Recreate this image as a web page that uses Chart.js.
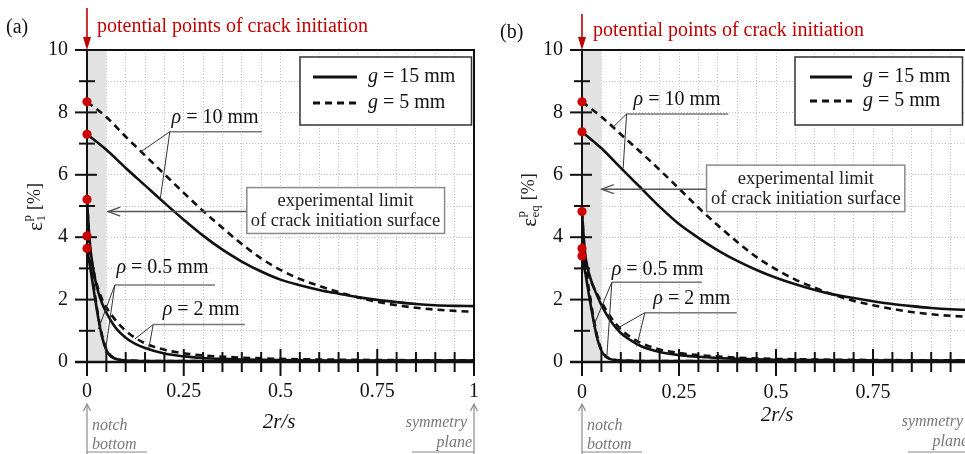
<!DOCTYPE html>
<html><head><meta charset="utf-8">
<script src="https://cdn.jsdelivr.net/npm/chart.js@4.4.1/dist/chart.umd.min.js"></script>
<style>
html,body{margin:0;padding:0;background:#fff;overflow:hidden;width:965px;height:454px;}
canvas{position:absolute;top:0;}
#ca{left:0;} #cb{left:485px;}
</style></head><body>
<canvas id="ca" width="482" height="454"></canvas>
<canvas id="cb" width="492" height="454"></canvas>
<script>
// ---------- data ----------
const xRho10 = [0,0.05,0.1,0.15,0.2,0.25,0.3,0.35,0.4,0.45,0.5,0.55,0.6,0.65,0.7,0.75,0.8,0.85,0.9,0.95,1];
const xRho2  = [0,0.005,0.01,0.02,0.03,0.04,0.05,0.075,0.1,0.125,0.15,0.2,0.25,0.3,0.35,0.4,0.5,0.6,0.8,1];
const xRho05 = [0,0.01,0.02,0.03,0.04,0.05,0.06,0.07,0.08,0.1,0.2,0.4,0.6,0.8,1];

// panel (a): eps_1^p [%]
const a_rho10_g15 = [7.30,6.80,6.22,5.66,5.10,4.56,4.05,3.60,3.22,2.90,2.64,2.46,2.31,2.19,2.08,1.99,1.92,1.86,1.82,1.80,1.79];
const a_rho10_g5  = [8.34,7.85,7.22,6.62,6.02,5.42,4.84,4.30,3.78,3.32,2.95,2.66,2.44,2.24,2.07,1.93,1.82,1.74,1.68,1.64,1.61];
const a_rho2_g15  = [5.21,4.2,3.5,2.7,2.2,1.85,1.58,1.08,0.78,0.58,0.45,0.27,0.18,0.13,0.1,0.08,0.06,0.05,0.05,0.05];
const a_rho2_g5   = [5.21,4.1,3.45,2.75,2.3,1.98,1.75,1.32,1.0,0.77,0.6,0.39,0.28,0.21,0.17,0.14,0.1,0.08,0.06,0.05];
const a_rho05_g15 = [3.64,2.9,2.1,1.35,0.75,0.38,0.2,0.12,0.08,0.05,0.03,0.03,0.03,0.03,0.03];
const a_rho05_g5  = [4.04,3.1,2.2,1.4,0.8,0.42,0.22,0.13,0.08,0.05,0.03,0.03,0.03,0.03,0.03];
const a_dots      = [8.34,7.30,5.21,4.04,3.64];

// panel (b): eps_eq^p [%]
const b_rho10_g15 = [7.38,6.85,6.22,5.60,4.98,4.42,3.98,3.58,3.24,2.95,2.70,2.49,2.31,2.16,2.05,1.95,1.86,1.79,1.73,1.69,1.67];
const b_rho10_g5  = [8.34,7.86,7.30,6.74,6.16,5.56,4.95,4.38,3.85,3.36,2.97,2.64,2.38,2.15,1.96,1.82,1.70,1.60,1.53,1.48,1.45];
const b_rho2_g15  = [4.82,3.9,3.3,2.75,2.4,2.1,1.82,1.3,0.93,0.7,0.52,0.32,0.22,0.17,0.13,0.1,0.07,0.06,0.05,0.05];
const b_rho2_g5   = [4.82,3.8,3.2,2.7,2.4,2.15,1.92,1.42,1.05,0.8,0.62,0.4,0.29,0.22,0.18,0.14,0.1,0.08,0.06,0.05];
const b_rho05_g15 = [3.40,2.75,2.0,1.3,0.72,0.36,0.18,0.11,0.07,0.05,0.03,0.03,0.03,0.03,0.03];
const b_rho05_g5  = [3.64,2.95,2.15,1.4,0.78,0.4,0.2,0.12,0.08,0.05,0.03,0.03,0.03,0.03,0.03];
const b_dots      = [8.34,7.38,4.82,3.64,3.40];

const xTickValues = [0,0.25,0.5,0.75,1];
const xTickLabels = ['0','0.25','0.5','0.75','1'];
const yTickValues = [0,2,4,6,8,10];
const yTickLabels = ['0','2','4','6','8','10'];
const legendLabels = ['15 mm','5 mm'];
const rhoLabels = ['10 mm','0.5 mm','2 mm'];

// ---------- helpers ----------
const SERIF = '"Liberation Serif","Times New Roman",serif';
const RED = '#c00000';
function line(ctx,x1,y1,x2,y2){ctx.beginPath();ctx.moveTo(x1,y1);ctx.lineTo(x2,y2);ctx.stroke();}
function rich(ctx, parts, x, y, align){
  let w=0; parts.forEach(p=>{ctx.font=p.f; p.w=ctx.measureText(p.t).width; w+=p.w;});
  let sx = align==='center'? x-w/2 : align==='right'? x-w : x;
  ctx.textAlign='left'; ctx.textBaseline='middle';
  parts.forEach(p=>{ctx.font=p.f; ctx.fillText(p.t, sx, y+(p.dy||0)); sx+=p.w;});
}
function openHead(ctx,x,y,ang,len,hw){
  const c=Math.cos(ang), s=Math.sin(ang);
  ctx.beginPath();
  ctx.moveTo(x - len*c + hw*s, y - len*s - hw*c);
  ctx.lineTo(x,y);
  ctx.lineTo(x - len*c - hw*s, y - len*s + hw*c);
  ctx.stroke();
}

function makeDeco(cfg){
  const ox = cfg.ox;
  return {
    id:'deco',
    beforeDatasetsDraw(chart){
      const {ctx, chartArea:a} = chart; const x=chart.scales.x, y=chart.scales.y;
      ctx.save();
      ctx.fillStyle='#e2e2e2';
      const bx0=x.getPixelForValue(0), bx1=x.getPixelForValue(0.05);
      ctx.fillRect(bx0, a.top, bx1-bx0, a.bottom-a.top);
      ctx.strokeStyle='#111'; ctx.lineWidth=2;
      line(ctx,a.left-12,a.top,a.right+1,a.top);
      line(ctx,a.right,a.top,a.right,a.bottom);
      line(ctx,a.left,a.top,a.left,a.bottom);
      ctx.lineWidth=2.5;
      line(ctx,a.left-12,a.bottom,a.right+1,a.bottom);
      ctx.lineWidth=2;
      y.ticks.forEach(t=>{
        const py=y.getPixelForValue(t.value);
        const major = Math.abs(t.value%2)<1e-6;
        if(major) line(ctx,a.left-12,py,a.left+10,py); else line(ctx,a.left-8,py,a.left+8,py);
      });
      x.ticks.forEach(t=>{
        const px=x.getPixelForValue(t.value);
        const major = Math.abs(t.value*4-Math.round(t.value*4))<1e-6;
        if(major) line(ctx,px,a.bottom-13,px,a.bottom+14); else line(ctx,px,a.bottom-10,px,a.bottom+10);
      });
      ctx.restore();
    },
    afterDatasetsDraw(chart){
      const {ctx, chartArea:a} = chart; const X=chart.scales.x, Y=chart.scales.y;
      const px=v=>X.getPixelForValue(v), py=v=>Y.getPixelForValue(v);
      ctx.save();
      ctx.fillStyle='#111';
      rich(ctx,[{t:cfg.tag.t,f:'20px '+SERIF}],cfg.tag.x-ox,cfg.tag.y,'left');
      ctx.strokeStyle=RED; ctx.fillStyle=RED; ctx.lineWidth=1.6;
      const ax=px(0);
      line(ctx,ax,cfg.red.top,ax,a.top-10);
      ctx.beginPath(); ctx.moveTo(ax-4,a.top-13); ctx.lineTo(ax+4,a.top-13); ctx.lineTo(ax,a.top); ctx.closePath(); ctx.fill();
      rich(ctx,[{t:'potential points of crack initiation',f:'20px '+SERIF}],cfg.red.x-ox,cfg.red.y,'left');
      const L=cfg.legend;
      ctx.fillStyle='#fff'; ctx.fillRect(L.x1-ox,L.y1,L.x2-L.x1,L.y2-L.y1);
      ctx.strokeStyle='#333'; ctx.lineWidth=1.5; ctx.strokeRect(L.x1-ox,L.y1,L.x2-L.x1,L.y2-L.y1);
      ctx.strokeStyle='#111'; ctx.lineWidth=3;
      line(ctx,L.lx1-ox,L.r1,L.lx2-ox,L.r1);
      ctx.setLineDash([7,5]); line(ctx,L.lx1-ox,L.r2,L.lx2-ox,L.r2); ctx.setLineDash([]);
      ctx.fillStyle='#111';
      rich(ctx,[{t:'g',f:'italic 20px '+SERIF},{t:' = '+legendLabels[0],f:'20px '+SERIF}],L.tx-ox,L.r1,'left');
      rich(ctx,[{t:'g',f:'italic 20px '+SERIF},{t:' = '+legendLabels[1],f:'20px '+SERIF}],L.tx-ox,L.r2,'left');
      cfg.rho.forEach((r,i)=>{
        ctx.fillStyle='#111';
        rich(ctx,[{t:'ρ',f:'italic 20px '+SERIF},{t:' = '+rhoLabels[i],f:'20px '+SERIF}],px(r.cx),py(r.cy),'center');
        ctx.strokeStyle='#777'; ctx.lineWidth=1.5;
        line(ctx,px(r.u[0]),py(r.u[2]),px(r.u[1]),py(r.u[2]));
        ctx.strokeStyle='#333'; ctx.lineWidth=1;
        r.L.forEach(p=>line(ctx,px(r.u[0]),py(r.u[2]),px(p[0]),py(p[1])));
      });
      const E=cfg.exp;
      ctx.strokeStyle='#555'; ctx.lineWidth=1.5;
      line(ctx,px(E.x1),py(E.ay),px(E.tip),py(E.ay));
      openHead(ctx,px(E.tip),py(E.ay),Math.PI,12,4.5);
      ctx.fillStyle='#fff';
      ctx.fillRect(px(E.x1),py(E.y1),px(E.x2)-px(E.x1),py(E.y2)-py(E.y1));
      ctx.strokeStyle='#8a8a8a'; ctx.lineWidth=1.5;
      ctx.strokeRect(px(E.x1),py(E.y1),px(E.x2)-px(E.x1),py(E.y2)-py(E.y1));
      ctx.fillStyle='#222';
      rich(ctx,[{t:'experimental limit',f:'18.5px '+SERIF}],px(E.cx),py(E.l1),'center');
      rich(ctx,[{t:'of crack initiation surface',f:'18.5px '+SERIF}],px(E.cx),py(E.l2),'center');
      ctx.save();
      ctx.translate(cfg.ylab.cx-ox,cfg.ylab.cy); ctx.rotate(-Math.PI/2);
      ctx.fillStyle='#222';
      ctx.font='21px '+SERIF; const we=ctx.measureText('ε').width;
      ctx.font='13px '+SERIF; const wsup=ctx.measureText('p').width, wsub=ctx.measureText(cfg.ylab.sub).width;
      const wst=Math.max(wsup,wsub)+1;
      ctx.font='18px '+SERIF; const wr=ctx.measureText(' [%]').width;
      let sx=-(we+wst+wr)/2;
      ctx.textBaseline='middle'; ctx.textAlign='left';
      ctx.font='21px '+SERIF; ctx.fillText('ε',sx,1); sx+=we;
      ctx.font='13px '+SERIF; ctx.fillText('p',sx+0.5,-7); ctx.fillText(cfg.ylab.sub,sx+0.5,7); sx+=wst;
      ctx.font='18px '+SERIF; ctx.fillText(' [%]',sx,0);
      ctx.restore();
      ctx.fillStyle='#111';
      rich(ctx,[{t:'2r/s',f:'italic 21px '+SERIF}],cfg.xt.x-ox,cfg.xt.y,'center');
      ctx.strokeStyle='#8a8a8a'; ctx.lineWidth=1.2; ctx.fillStyle='#777';
      const nx=px(0), sxp=px(1);
      line(ctx,nx,405,nx,454); openHead(ctx,nx,404,-Math.PI/2,7,3.5);
      line(ctx,nx,452,nx+60,452);
      line(ctx,sxp,405,sxp,454); openHead(ctx,sxp,404,-Math.PI/2,7,3.5);
      line(ctx,sxp-62,452,sxp,452);
      rich(ctx,[{t:'notch',f:'italic 16px '+SERIF}],cfg.notch.x-ox,cfg.notch.y1,'left');
      rich(ctx,[{t:'bottom',f:'italic 16px '+SERIF}],cfg.notch.x-ox,cfg.notch.y2,'left');
      rich(ctx,[{t:'symmetry',f:'italic 16px '+SERIF}],sxp-7,cfg.sym.y1,'right');
      rich(ctx,[{t:'plane',f:'italic 16px '+SERIF}],sxp-2,cfg.sym.y2,'right');
      ctx.restore();
    }
  };
}

function pts(xs,ys){return xs.map((x,i)=>({x:x,y:ys[i]}));}
function solid(xs,ys){return {data:pts(xs,ys),borderColor:'#111',borderWidth:2.6,pointRadius:0,cubicInterpolationMode:'monotone',fill:false};}
function dashed(xs,ys){return Object.assign(solid(xs,ys),{borderDash:[7,5]});}

function makeChart(id, series, dots, cfg){
  const datasets=[
    {data:dots.map(v=>({x:0,y:v})),showLine:false,pointRadius:4.6,pointHoverRadius:4.6,pointBackgroundColor:'#cc0000',pointBorderColor:'#cc0000',pointBorderWidth:0,clip:false,order:-1},
    solid(xRho10,series[0]), dashed(xRho10,series[1]),
    solid(xRho2,series[2]), dashed(xRho2,series[3]),
    solid(xRho05,series[4]), dashed(xRho05,series[5])
  ];
  return new Chart(document.getElementById(id),{
    type:'line',
    data:{datasets},
    options:{
      responsive:false, animation:false, devicePixelRatio:1,
      layout:{padding:{left:0,top:50,right:cfg.padR,bottom:0}},
      plugins:{legend:{display:false},tooltip:{enabled:false}},
      scales:{
        x:{type:'linear',min:0,max:1,
          ticks:{stepSize:0.05,maxTicksLimit:100,autoSkip:false,maxRotation:0,padding:0,color:'#111',
            font:{family:'Liberation Serif',size:20,lineHeight:cfg.xlh},
            callback:v=>{const i=xTickValues.findIndex(t=>Math.abs(t-v)<1e-6);return i<0?'':xTickLabels[i];}},
          grid:{color:'#c4c4c4',lineWidth:1,drawTicks:false},
          border:{display:false,dash:[1,2]},
          afterFit:s=>{s.height=92;}},
        y:{type:'linear',min:0,max:10,
          ticks:{stepSize:1,maxTicksLimit:100,autoSkip:false,padding:19,color:'#111',font:{family:'Liberation Serif',size:20},
            callback:v=>{const i=yTickValues.findIndex(t=>Math.abs(t-v)<1e-6);return i<0?'':yTickLabels[i];}},
          grid:{color:'#c4c4c4',lineWidth:1,drawTicks:false},
          border:{display:false,dash:[1,2]},
          afterFit:s=>{s.width=cfg.left;}}
      }
    },
    plugins:[makeDeco(cfg)]
  });
}

const cfgA={ox:0,left:87,padR:8,xlh:3.0,
  tag:{t:'(a)',x:6,y:28}, red:{x:97,y:27,top:8},
  legend:{x1:300,y1:57,x2:471.5,y2:125,lx1:313,lx2:357,tx:368,r1:77,r2:103},
  exp:{x1:0.413,x2:0.924,y1:5.59,y2:4.12,cx:0.668,l1:5.14,l2:4.50,ay:4.82,tip:0.055},
  rho:[{cx:0.331,cy:7.82,u:[0.214,0.452,7.38],L:[[0.137,6.72],[0.189,5.2]]},
       {cx:0.195,cy:3.01,u:[0.072,0.331,2.47],L:[[0.029,1.05],[0.047,0.3]]},
       {cx:0.295,cy:1.67,u:[0.171,0.408,1.20],L:[[0.124,0.74],[0.160,0.45]]}],
  ylab:{cx:35,cy:207,sub:'1'}, xt:{x:279,y:422},
  notch:{x:92,y1:426,y2:445}, sym:{y1:423,y2:443}};
const cfgB={ox:485,left:97,padR:7,xlh:3.1,
  tag:{t:'(b)',x:500,y:33}, red:{x:593,y:31,top:14},
  legend:{x1:795,y1:57,x2:962.5,y2:125,lx1:810,lx2:852,tx:863,r1:77,r2:101},
  exp:{x1:0.321,x2:0.832,y1:6.31,y2:4.82,cx:0.577,l1:5.86,l2:5.21,ay:5.54,tip:0.051},
  rho:[{cx:0.245,cy:8.40,u:[0.115,0.377,7.95],L:[[0.081,7.54],[0.106,6.21]]},
       {cx:0.195,cy:2.95,u:[0.077,0.309,2.56],L:[[0.029,1.13],[0.064,0.17]]},
       {cx:0.283,cy:2.04,u:[0.162,0.399,1.58],L:[[0.094,1.1],[0.141,0.5]]}],
  ylab:{cx:529,cy:200,sub:'eq'}, xt:{x:777,y:415},
  notch:{x:587,y1:426,y2:445}, sym:{y1:422,y2:442}};

makeChart('ca',[a_rho10_g15,a_rho10_g5,a_rho2_g15,a_rho2_g5,a_rho05_g15,a_rho05_g5],a_dots,cfgA);
makeChart('cb',[b_rho10_g15,b_rho10_g5,b_rho2_g15,b_rho2_g5,b_rho05_g15,b_rho05_g5],b_dots,cfgB);
</script>
</body></html>
